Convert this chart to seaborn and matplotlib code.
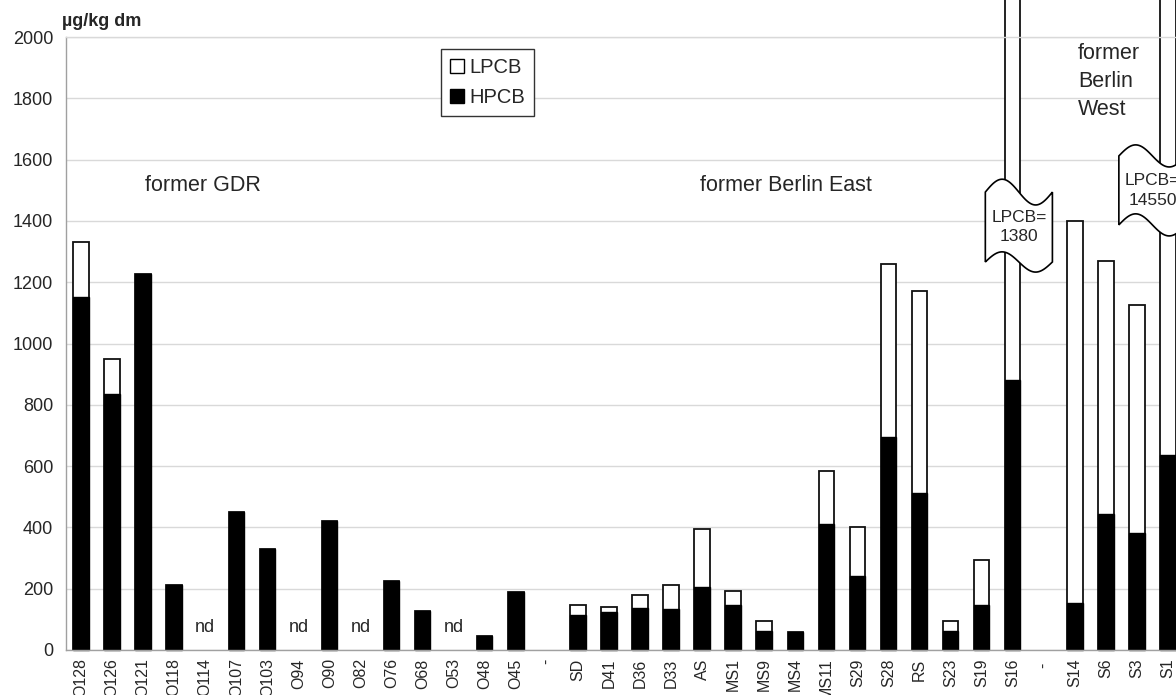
import numpy as np
import pandas as pd
import matplotlib
matplotlib.use("Agg")
import matplotlib.pyplot as plt
from matplotlib.patches import Patch, Polygon
import seaborn as sns

# sample sites (two "-" separators between the groups)
sites = ["O128", "O126", "O121", "O118", "O114", "O107", "O103", "O94", "O90", "O82",
         "O76", "O68", "O53", "O48", "O45", "-", "SD", "D41", "D36", "D33",
         "AS", "MS1", "MS9", "MS4", "MS11", "S29", "S28", "RS", "S23", "S19",
         "S16", "- ", "S14", "S6", "S3", "S1"]

nan = np.nan
# µg/kg dm, nd / separator = nan
hpcb = [1152, 835, 1228, 212, nan, 450, 329, nan, 421, nan,
        226, 128, nan, 46, 188, nan, 115, 124, 138, 133,
        207, 147, 63, 60, 411, 240, 694, 513, 63, 148,
        881, nan, 153, 444, 382, 636]
lpcb = [178, 115, 0, 0, nan, 0, 0, nan, 0, nan,
        0, 0, nan, 0, 0, nan, 32, 17, 41, 78,
        189, 46, 33, 0, 173, 161, 565, 658, 33, 147,
        1380, nan, 1247, 825, 744, 14550]
not_detected = ["O114", "O94", "O82", "O53"]
broken = {"S16": "LPCB=\n1380", "S1": "LPCB=\n14550"}

df = pd.DataFrame({"site": sites, "HPCB": hpcb, "LPCB": lpcb})
df["total"] = df["HPCB"] + df["LPCB"]

sns.set_style("white")
plt.rcParams["font.family"] = ["Liberation Sans", "DejaVu Sans"]

fig = plt.figure(figsize=(11.76, 6.95), dpi=100)
ax = fig.add_axes([65.5 / 1176, 45 / 695, (1176 - 65.5) / 1176, 613 / 695])

# stacked bars: total (white) behind, HPCB (black) in front
sns.barplot(data=df, x="site", y="total", order=sites, color="white", saturation=1,
            edgecolor="#111111", linewidth=1.3, width=0.5, errorbar=None, ax=ax)
sns.barplot(data=df, x="site", y="HPCB", order=sites, color="black", saturation=1,
            edgecolor="black", linewidth=1.0, width=0.5, errorbar=None, ax=ax)
for p in ax.patches:
    p.set_clip_on(False)

ax.set_yticks(np.arange(0, 2001, 200))
ax.set_xticks(np.arange(-0.5, len(sites), 1), minor=True)
# plot is cut off on the right, half way through the last slot
ax.set_xlim(-0.5, 35.26)
ax.set_ylim(0, 2000)
ax.yaxis.grid(True, color="#d9d9d9", linewidth=1.0)
ax.set_axisbelow(True)
ax.set_xlabel("")
ax.set_ylabel("")

for s in ["left", "bottom", "top"]:
    ax.spines[s].set_color("#a0a0a0")
    ax.spines[s].set_linewidth(1.0)
ax.spines["top"].set_color("#d9d9d9")
ax.spines["right"].set_visible(False)

ax.tick_params(axis="y", length=0, pad=9, labelsize=13)
ax.tick_params(axis="x", which="major", length=0, pad=6, labelsize=11.5, rotation=90)
ax.tick_params(axis="x", which="minor", length=4, color="#b0b0b0", direction="out")

# nd labels
for s in not_detected:
    ax.text(sites.index(s), 72, "nd", ha="center", va="center", fontsize=13)

# group labels
ax.text(3.93, 1514, "former GDR", ha="center", va="center", fontsize=15.5)
ax.text(22.7, 1514, "former Berlin East", ha="center", va="center", fontsize=15.5)
ax.text(32.1, 1980, "former\nBerlin\nWest", ha="left", va="top", fontsize=15.5,
        linespacing=1.42)


# wavy break flags over the bars that run off the scale
def flag(xc, ytop, ybot, amp_top, amp_bot, text, width=2.16):
    t = np.linspace(0, 1, 80)
    xs = xc - width / 2 + width * t
    top = ytop + amp_top * np.sin(2 * np.pi * t)
    bot = ybot + amp_bot * np.sin(2 * np.pi * t)
    verts = list(zip(xs, top)) + list(zip(xs[::-1], bot[::-1]))
    ax.add_patch(Polygon(verts, closed=True, facecolor="white", edgecolor="black",
                         linewidth=1.2, zorder=5, clip_on=False))
    ax.text(xc, (ytop + ybot) / 2, text, ha="center", va="center", fontsize=12.5,
            linespacing=1.4, zorder=6, clip_on=False)


flag(sites.index("S16") + 0.2, 1494, 1266, 42, 33, broken["S16"])
flag(sites.index("S1") - 0.5, 1612, 1387, 36, 36, broken["S1"])

handles = [Patch(facecolor="white", edgecolor="black", linewidth=1.0, label="LPCB"),
           Patch(facecolor="black", edgecolor="black", linewidth=1.0, label="HPCB")]
leg = ax.legend(handles=handles, loc="upper left", bbox_to_anchor=(441 / 1176, 1 - 49 / 695),
                bbox_transform=fig.transFigure, fontsize=14.5, frameon=True, fancybox=False,
                framealpha=1, edgecolor="#333333", handlelength=0.7, handleheight=0.7,
                handletextpad=0.25, borderpad=0.45, labelspacing=0.55, borderaxespad=0)
leg.get_frame().set_linewidth(1.0)

fig.text(62 / 1176, 1 - 22 / 695, "µg/kg dm", fontsize=13, fontweight="bold",
         ha="left", va="center")

fig.savefig("out.png", dpi=100)
